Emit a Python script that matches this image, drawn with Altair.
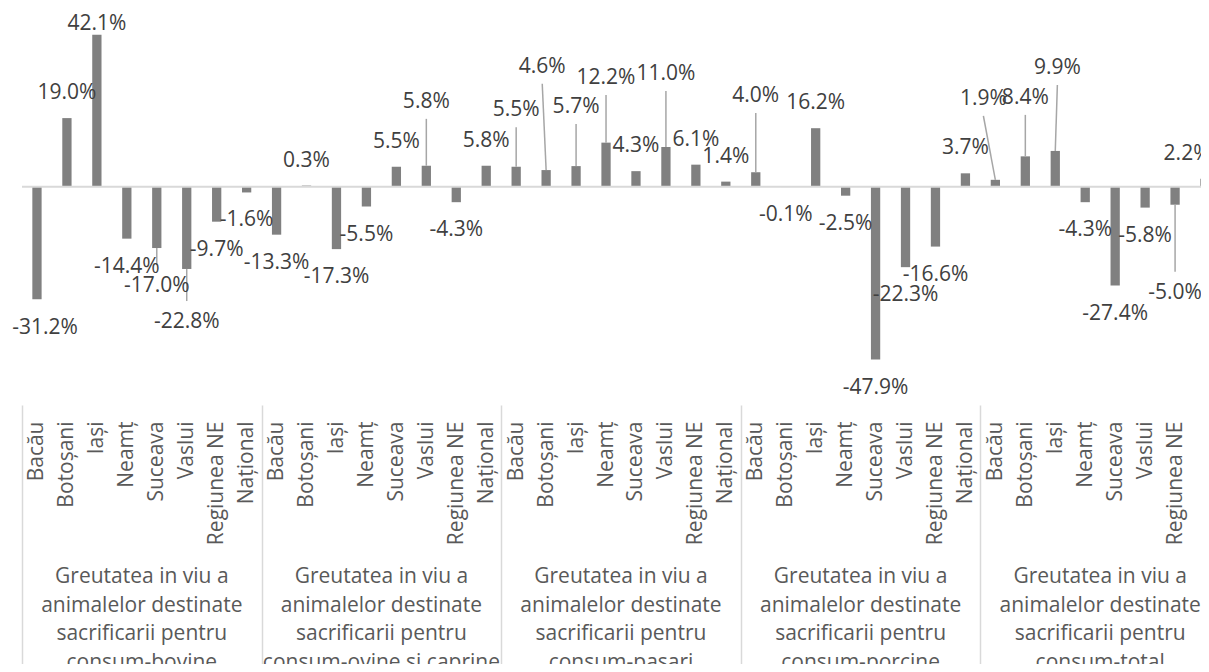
import json
import altair as alt
import pandas as pd

# ---------------- data ----------------
REGIONS = ["Bacău", "Botoșani", "Iași", "Neamț", "Suceava", "Vaslui", "Regiunea NE", "Național"]

GROUP_TITLES = [
    "Greutatea in viu a\nanimalelor destinate\nsacrificarii pentru\nconsum-bovine",
    "Greutatea in viu a\nanimalelor destinate\nsacrificarii pentru\nconsum-ovine si caprine",
    "Greutatea in viu a\nanimalelor destinate\nsacrificarii pentru\nconsum-pasari",
    "Greutatea in viu a\nanimalelor destinate\nsacrificarii pentru\nconsum-porcine",
    "Greutatea in viu a\nanimalelor destinate\nsacrificarii pentru\nconsum-total",
]

BOVINE = [-31.2, 19.0, 42.1, -14.4, -17.0, -22.8, -9.7, -1.6]
OVINE = [-13.3, 0.3, -17.3, -5.5, 5.5, 5.8, -4.3, 5.8]
PASARI = [5.5, 4.6, 5.7, 12.2, 4.3, 11.0, 6.1, 1.4]
PORCINE = [4.0, -0.1, 16.2, -2.5, -47.9, -22.3, -16.6, 3.7]
TOTAL = [1.9, 8.4, 9.9, -4.3, -27.4, -5.8, -5.0, 2.2]
SERIES = [BOVINE, OVINE, PASARI, PORCINE, TOTAL]

# data labels that were moved by hand in the original (group, region)
MOVED_KEYS = [(0, 0), (0, 2), (0, 4), (0, 5), (1, 5), (2, 0), (2, 1), (2, 2), (2, 3),
              (2, 5), (3, 0), (4, 0), (4, 1), (4, 2), (4, 6), (4, 7)]
MOVED_AT = [-39.1, 45.1, -27.5, -37.5, 23.5, 21.2, 33.2, 22.1, 30.1,
            31.2, 25.1, 24.3, 24.6, 32.9, -29.4, 9.1]          # label level, in %
MOVED_SHIFT = [0.27, 0, 0, 0, 0, 0, -0.13, 0, 0,
               0, 0, -0.4, 0, 0.07, 0, -0.6]                   # in bar slots
HAS_LEADER = [False, False, True, True, True, True, True, True, True,
              True, True, True, True, True, True, False]

# ---------------- tables ----------------
rows = []
for g, vals in enumerate(SERIES):
    for r, v in enumerate(vals):
        pos = g * 8 + r + 0.5
        key = (g, r)
        if key in MOVED_KEYS:
            k = MOVED_KEYS.index(key)
            kind = "moved"
            lab_x = pos + MOVED_SHIFT[k]
            lab_y = MOVED_AT[k]
            leader = HAS_LEADER[k]
        else:
            kind = "pos" if v >= 0 else "neg"
            lab_x = pos
            lab_y = v
            leader = False
        rows.append(dict(group=g, region=REGIONS[r], pos=pos, value=v,
                         label=f"{v:.1f}%", kind=kind, lab_x=lab_x,
                         lab_y=lab_y, leader=leader))
df = pd.DataFrame(rows)

gdf = pd.DataFrame({"gx": [g * 8 + 4 for g in range(len(GROUP_TITLES))],
                    "title": GROUP_TITLES})
zdf = pd.DataFrame({"z": [0]})

# ---------------- scales / axis ----------------
PLOT_W = 1179
PLOT_H = 392
XMAX = PLOT_W / 29.95
xs = alt.Scale(domain=[0, XMAX], nice=False, zero=False)
ys = alt.Scale(domain=[-59.1, 49.5], nice=False, zero=False)

TICK = 290
tick_values = []
for g in range(5):
    tick_values.append(g * 8)
    tick_values += [g * 8 + r + 0.5 for r in range(8)]

region_js = json.dumps(REGIONS, ensure_ascii=False)
x_axis = alt.Axis(
    values=tick_values, tickCount=500,
    labelExpr=f"datum.value % 1 === 0 ? '' : {region_js}[floor(datum.value) % 8]",
    labelAngle=270, labelAlign="right", labelBaseline="middle",
    labelFont="Open Sans", labelFontSize=21, labelColor="#595959",
    labelPadding=16 - TICK, labelOverlap=False, labelFlush=False, labelBound=False,
    tickSize=TICK, tickColor="#d9d9d9", tickWidth=1.5,
    tickOpacity={"condition": {"test": "datum.value % 8 === 0", "value": 1}, "value": 0},
    domain=False, grid=False, offset=5, title=None,
)

base = alt.Chart(df)

bars = base.transform_calculate(
    x0="datum.pos - 0.155", x1="datum.pos + 0.155"
).mark_bar(color="#808080").encode(
    x=alt.X("x0:Q", scale=xs, axis=x_axis),
    x2="x1:Q",
    y=alt.Y("value:Q", scale=ys, axis=None),
    y2=alt.datum(0),
)

zero = alt.Chart(zdf).mark_rule(color="#d9d9d9", strokeWidth=2).encode(
    y=alt.Y("z:Q", scale=ys, axis=None)
)

leader_pos = base.transform_filter("datum.leader && datum.value >= 0").mark_rule(
    color="#a6a6a6", strokeWidth=1.5, y2Offset=17
).encode(
    x=alt.X("pos:Q", scale=xs), x2="lab_x:Q",
    y=alt.Y("value:Q", scale=ys), y2="lab_y:Q",
)
leader_neg = base.transform_filter("datum.leader && datum.value < 0").mark_rule(
    color="#a6a6a6", strokeWidth=1.5, y2Offset=-21
).encode(
    x=alt.X("pos:Q", scale=xs), x2="lab_x:Q",
    y=alt.Y("value:Q", scale=ys), y2="lab_y:Q",
)

text_style = dict(font="Open Sans", fontSize=21, color="#404040",
                  baseline="middle", align="center")

lab_pos = base.transform_filter("datum.kind === 'pos'").mark_text(dy=-25, **text_style).encode(
    x=alt.X("pos:Q", scale=xs), y=alt.Y("value:Q", scale=ys), text="label:N")
lab_neg = base.transform_filter("datum.kind === 'neg'").mark_text(dy=28, **text_style).encode(
    x=alt.X("pos:Q", scale=xs), y=alt.Y("value:Q", scale=ys), text="label:N")
lab_moved = base.transform_filter("datum.kind === 'moved'").mark_text(**text_style).encode(
    x=alt.X("lab_x:Q", scale=xs), y=alt.Y("lab_y:Q", scale=ys), text="label:N")

group_labels = alt.Chart(gdf).mark_text(
    font="Open Sans", fontSize=21, color="#595959", baseline="middle",
    align="center", lineBreak="\n", lineHeight=28.5,
).encode(
    x=alt.X("gx:Q", scale=xs),
    y=alt.value(PLOT_H + 177),
    text="title:N",
)

chart = alt.layer(
    bars, zero, leader_pos, leader_neg, lab_pos, lab_neg, lab_moved, group_labels
).properties(
    width=PLOT_W, height=PLOT_H,
    autosize=alt.AutoSizeParams(type="none"),
    padding={"left": 14, "top": 0, "right": 0, "bottom": 264},
    background="white",
).configure_view(strokeWidth=0)

chart.save("out.html", embed_options={"renderer": "svg", "actions": False})
